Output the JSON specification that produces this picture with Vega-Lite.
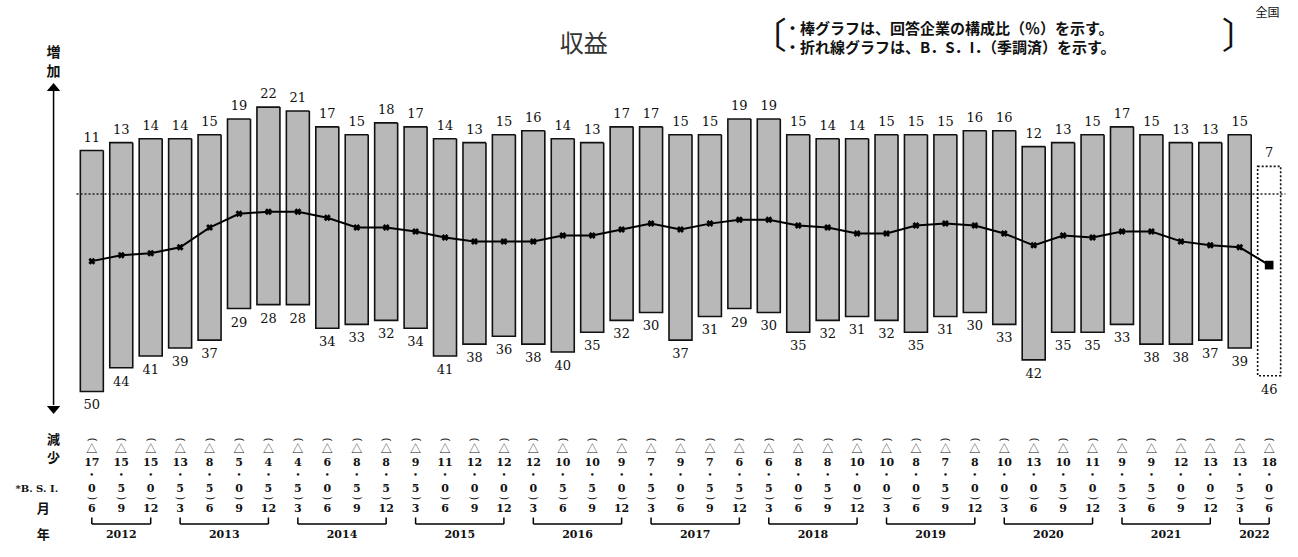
{
  "$schema": "https://vega.github.io/schema/vega-lite/v6.json",
  "width": 1298,
  "height": 557,
  "autosize": {"type": "fit", "contains": "padding"},
  "padding": 0,
  "background": "white",
  "config": {"view": {"stroke": null}, "text": {"font": "DejaVu Serif", "color": "#111"}},
  "data": {"values": [
    {"i": 0, "year": 2012, "month": 6, "inc": 11, "dec": -50, "bsi": -17.0, "kind": "実績"},
    {"i": 1, "year": 2012, "month": 9, "inc": 13, "dec": -44, "bsi": -15.5, "kind": "実績"},
    {"i": 2, "year": 2012, "month": 12, "inc": 14, "dec": -41, "bsi": -15.0, "kind": "実績"},
    {"i": 3, "year": 2013, "month": 3, "inc": 14, "dec": -39, "bsi": -13.5, "kind": "実績"},
    {"i": 4, "year": 2013, "month": 6, "inc": 15, "dec": -37, "bsi": -8.5, "kind": "実績"},
    {"i": 5, "year": 2013, "month": 9, "inc": 19, "dec": -29, "bsi": -5.0, "kind": "実績"},
    {"i": 6, "year": 2013, "month": 12, "inc": 22, "dec": -28, "bsi": -4.5, "kind": "実績"},
    {"i": 7, "year": 2014, "month": 3, "inc": 21, "dec": -28, "bsi": -4.5, "kind": "実績"},
    {"i": 8, "year": 2014, "month": 6, "inc": 17, "dec": -34, "bsi": -6.0, "kind": "実績"},
    {"i": 9, "year": 2014, "month": 9, "inc": 15, "dec": -33, "bsi": -8.5, "kind": "実績"},
    {"i": 10, "year": 2014, "month": 12, "inc": 18, "dec": -32, "bsi": -8.5, "kind": "実績"},
    {"i": 11, "year": 2015, "month": 3, "inc": 17, "dec": -34, "bsi": -9.5, "kind": "実績"},
    {"i": 12, "year": 2015, "month": 6, "inc": 14, "dec": -41, "bsi": -11.0, "kind": "実績"},
    {"i": 13, "year": 2015, "month": 9, "inc": 13, "dec": -38, "bsi": -12.0, "kind": "実績"},
    {"i": 14, "year": 2015, "month": 12, "inc": 15, "dec": -36, "bsi": -12.0, "kind": "実績"},
    {"i": 15, "year": 2016, "month": 3, "inc": 16, "dec": -38, "bsi": -12.0, "kind": "実績"},
    {"i": 16, "year": 2016, "month": 6, "inc": 14, "dec": -40, "bsi": -10.5, "kind": "実績"},
    {"i": 17, "year": 2016, "month": 9, "inc": 13, "dec": -35, "bsi": -10.5, "kind": "実績"},
    {"i": 18, "year": 2016, "month": 12, "inc": 17, "dec": -32, "bsi": -9.0, "kind": "実績"},
    {"i": 19, "year": 2017, "month": 3, "inc": 17, "dec": -30, "bsi": -7.5, "kind": "実績"},
    {"i": 20, "year": 2017, "month": 6, "inc": 15, "dec": -37, "bsi": -9.0, "kind": "実績"},
    {"i": 21, "year": 2017, "month": 9, "inc": 15, "dec": -31, "bsi": -7.5, "kind": "実績"},
    {"i": 22, "year": 2017, "month": 12, "inc": 19, "dec": -29, "bsi": -6.5, "kind": "実績"},
    {"i": 23, "year": 2018, "month": 3, "inc": 19, "dec": -30, "bsi": -6.5, "kind": "実績"},
    {"i": 24, "year": 2018, "month": 6, "inc": 15, "dec": -35, "bsi": -8.0, "kind": "実績"},
    {"i": 25, "year": 2018, "month": 9, "inc": 14, "dec": -32, "bsi": -8.5, "kind": "実績"},
    {"i": 26, "year": 2018, "month": 12, "inc": 14, "dec": -31, "bsi": -10.0, "kind": "実績"},
    {"i": 27, "year": 2019, "month": 3, "inc": 15, "dec": -32, "bsi": -10.0, "kind": "実績"},
    {"i": 28, "year": 2019, "month": 6, "inc": 15, "dec": -35, "bsi": -8.0, "kind": "実績"},
    {"i": 29, "year": 2019, "month": 9, "inc": 15, "dec": -31, "bsi": -7.5, "kind": "実績"},
    {"i": 30, "year": 2019, "month": 12, "inc": 16, "dec": -30, "bsi": -8.0, "kind": "実績"},
    {"i": 31, "year": 2020, "month": 3, "inc": 16, "dec": -33, "bsi": -10.0, "kind": "実績"},
    {"i": 32, "year": 2020, "month": 6, "inc": 12, "dec": -42, "bsi": -13.0, "kind": "実績"},
    {"i": 33, "year": 2020, "month": 9, "inc": 13, "dec": -35, "bsi": -10.5, "kind": "実績"},
    {"i": 34, "year": 2020, "month": 12, "inc": 15, "dec": -35, "bsi": -11.0, "kind": "実績"},
    {"i": 35, "year": 2021, "month": 3, "inc": 17, "dec": -33, "bsi": -9.5, "kind": "実績"},
    {"i": 36, "year": 2021, "month": 6, "inc": 15, "dec": -38, "bsi": -9.5, "kind": "実績"},
    {"i": 37, "year": 2021, "month": 9, "inc": 13, "dec": -38, "bsi": -12.0, "kind": "実績"},
    {"i": 38, "year": 2021, "month": 12, "inc": 13, "dec": -37, "bsi": -13.0, "kind": "実績"},
    {"i": 39, "year": 2022, "month": 3, "inc": 15, "dec": -39, "bsi": -13.5, "kind": "実績"},
    {"i": 40, "year": 2022, "month": 6, "inc": 7, "dec": -46, "bsi": -18.0, "kind": "見通し"}
  ]},
  "layer": [
    {
      "mark": {"type": "bar", "width": 23, "stroke": "#111", "strokeWidth": 1.6},
      "encoding": {
        "x": {"field": "i", "type": "quantitative", "axis": null, "scale": {"domain": [-2.95, 40.81], "nice": false, "zero": false}},
        "y": {"field": "inc", "type": "quantitative", "axis": null, "scale": {"domain": [-91.9, 49.11], "nice": false, "zero": false}},
        "y2": {"field": "dec"},
        "fill": {"field": "kind", "type": "nominal", "scale": {"domain": ["実績", "見通し"], "range": ["#b8b8b8", "#ffffff"]}, "legend": null},
        "strokeDash": {"field": "kind", "type": "nominal", "scale": {"domain": ["実績", "見通し"], "range": [[1, 0], [2, 2]]}, "legend": null}
      }
    },
    {
      "data": {"values": [{}]},
      "mark": {"type": "rule", "strokeDash": [2, 2], "color": "#222", "strokeWidth": 1.3},
      "encoding": {
        "x": {"datum": -0.52, "type": "quantitative", "axis": null, "scale": {"domain": [-2.95, 40.81], "nice": false, "zero": false}},
        "x2": {"datum": 40.55},
        "y": {"datum": 0, "type": "quantitative", "axis": null, "scale": {"domain": [-91.9, 49.11], "nice": false, "zero": false}}
      }
    },
    {
      "mark": {"type": "line", "color": "#000", "strokeWidth": 2},
      "encoding": {
        "x": {"field": "i", "type": "quantitative", "axis": null, "scale": {"domain": [-2.95, 40.81], "nice": false, "zero": false}},
        "y": {"field": "bsi", "type": "quantitative", "axis": null, "scale": {"domain": [-91.9, 49.11], "nice": false, "zero": false}}
      }
    },
    {
      "transform": [{"filter": "datum.kind == '実績'"}],
      "mark": {"type": "point", "shape": "cross", "angle": 45, "size": 50, "filled": true, "color": "#000", "opacity": 1},
      "encoding": {
        "x": {"field": "i", "type": "quantitative", "axis": null, "scale": {"domain": [-2.95, 40.81], "nice": false, "zero": false}},
        "y": {"field": "bsi", "type": "quantitative", "axis": null, "scale": {"domain": [-91.9, 49.11], "nice": false, "zero": false}}
      }
    },
    {
      "transform": [{"filter": "datum.kind == '見通し'"}],
      "mark": {"type": "point", "shape": "square", "size": 75, "filled": true, "color": "#000", "opacity": 1},
      "encoding": {
        "x": {"field": "i", "type": "quantitative", "axis": null, "scale": {"domain": [-2.95, 40.81], "nice": false, "zero": false}},
        "y": {"field": "bsi", "type": "quantitative", "axis": null, "scale": {"domain": [-91.9, 49.11], "nice": false, "zero": false}}
      }
    },
    {
      "mark": {"type": "text", "dy": -13, "baseline": "middle", "fontSize": 13},
      "encoding": {
        "x": {"field": "i", "type": "quantitative", "axis": null, "scale": {"domain": [-2.95, 40.81], "nice": false, "zero": false}},
        "y": {"field": "inc", "type": "quantitative", "axis": null, "scale": {"domain": [-91.9, 49.11], "nice": false, "zero": false}},
        "text": {"field": "inc", "type": "quantitative"}
      }
    },
    {
      "mark": {"type": "text", "dy": 14, "baseline": "middle", "fontSize": 13, "text": {"expr": "abs(datum.dec)"}},
      "encoding": {
        "x": {"field": "i", "type": "quantitative", "axis": null, "scale": {"domain": [-2.95, 40.81], "nice": false, "zero": false}},
        "y": {"field": "dec", "type": "quantitative", "axis": null, "scale": {"domain": [-91.9, 49.11], "nice": false, "zero": false}}
      }
    },
    {
      "mark": {"type": "text", "baseline": "middle", "align": "center", "angle": 90, "fontSize": 11, "font": "DejaVu Sans", "text": "("},
      "encoding": {
        "x": {"field": "i", "type": "quantitative", "axis": null},
        "y": {"datum": -62.2, "type": "quantitative", "axis": null}
      }
    },
    {
      "mark": {"type": "text", "baseline": "middle", "fontSize": 11, "font": "Noto Sans CJK JP", "text": {"expr": "datum.bsi < 0 ? '△' : ''"}},
      "encoding": {
        "x": {"field": "i", "type": "quantitative", "axis": null},
        "y": {"datum": -64.8, "type": "quantitative", "axis": null}
      }
    },
    {
      "mark": {"type": "text", "baseline": "middle", "fontSize": 11, "fontWeight": "bold", "text": {"expr": "floor(abs(datum.bsi))"}},
      "encoding": {
        "x": {"field": "i", "type": "quantitative", "axis": null},
        "y": {"datum": -68.1, "type": "quantitative", "axis": null}
      }
    },
    {
      "mark": {"type": "text", "baseline": "middle", "fontSize": 7, "fontWeight": "bold", "text": "•"},
      "encoding": {
        "x": {"field": "i", "type": "quantitative", "axis": null},
        "y": {"datum": -71.14, "type": "quantitative", "axis": null}
      }
    },
    {
      "mark": {"type": "text", "baseline": "middle", "fontSize": 11, "fontWeight": "bold", "text": {"expr": "round(abs(datum.bsi) * 10) % 10"}},
      "encoding": {
        "x": {"field": "i", "type": "quantitative", "axis": null},
        "y": {"datum": -74.7, "type": "quantitative", "axis": null}
      }
    },
    {
      "mark": {"type": "text", "baseline": "middle", "align": "center", "angle": 90, "fontSize": 11, "font": "DejaVu Sans", "text": ")"},
      "encoding": {
        "x": {"field": "i", "type": "quantitative", "axis": null},
        "y": {"datum": -77.0, "type": "quantitative", "axis": null}
      }
    },
    {
      "mark": {"type": "text", "baseline": "middle", "fontSize": 11, "fontWeight": "bold"},
      "encoding": {
        "x": {"field": "i", "type": "quantitative", "axis": null},
        "y": {"datum": -79.7, "type": "quantitative", "axis": null},
        "text": {"field": "month", "type": "nominal"}
      }
    },
    {
      "transform": [{"aggregate": [{"op": "min", "field": "i", "as": "i0"}, {"op": "max", "field": "i", "as": "i1"}, {"op": "mean", "field": "i", "as": "im"}], "groupby": ["year"]}],
      "layer": [
        {
          "mark": {"type": "rule", "color": "#000", "strokeWidth": 1.5},
          "encoding": {
            "x": {"field": "i0", "type": "quantitative", "axis": null},
            "x2": {"field": "i1"},
            "y": {"datum": -83.54, "type": "quantitative", "axis": null}
          }
        },
        {
          "mark": {"type": "rule", "color": "#000", "strokeWidth": 1.5},
          "encoding": {
            "x": {"field": "i0", "type": "quantitative", "axis": null},
            "y": {"datum": -81.9, "type": "quantitative", "axis": null},
            "y2": {"datum": -83.54}
          }
        },
        {
          "mark": {"type": "rule", "color": "#000", "strokeWidth": 1.5},
          "encoding": {
            "x": {"field": "i1", "type": "quantitative", "axis": null},
            "y": {"datum": -81.9, "type": "quantitative", "axis": null},
            "y2": {"datum": -83.54}
          }
        },
        {
          "mark": {"type": "text", "baseline": "middle", "fontSize": 11, "fontWeight": "bold"},
          "encoding": {
            "x": {"field": "im", "type": "quantitative", "axis": null},
            "y": {"datum": -86.33, "type": "quantitative", "axis": null},
            "text": {"field": "year", "type": "nominal"}
          }
        }
      ]
    },
    {
      "data": {"values": [{}]},
      "layer": [
        {
          "mark": {"type": "rule", "color": "#000", "strokeWidth": 1.5},
          "encoding": {
            "x": {"datum": -1.3, "type": "quantitative", "axis": null},
            "y": {"datum": 26.3, "type": "quantitative", "axis": null},
            "y2": {"datum": -53.4}
          }
        },
        {
          "mark": {"type": "point", "shape": "M-1,0.6L1,0.6L0,-0.6Z", "size": 180, "filled": true, "color": "#000", "opacity": 1},
          "encoding": {
            "x": {"datum": -1.3, "type": "quantitative", "axis": null},
            "y": {"datum": 27.1, "type": "quantitative", "axis": null}
          }
        },
        {
          "mark": {"type": "point", "shape": "M-1,-0.6L1,-0.6L0,0.6Z", "size": 180, "filled": true, "color": "#000", "opacity": 1},
          "encoding": {
            "x": {"datum": -1.3, "type": "quantitative", "axis": null},
            "y": {"datum": -54.7, "type": "quantitative", "axis": null}
          }
        },
        {
          "mark": {"type": "text", "baseline": "middle", "align": "center", "fontSize": 14, "font": "Noto Sans CJK JP", "fontWeight": "bold", "text": "増"},
          "encoding": {
            "x": {"datum": -1.3, "type": "quantitative", "axis": null},
            "y": {"datum": 35.6, "type": "quantitative", "axis": null}
          }
        },
        {
          "mark": {"type": "text", "baseline": "middle", "align": "center", "fontSize": 14, "font": "Noto Sans CJK JP", "fontWeight": "bold", "text": "加"},
          "encoding": {
            "x": {"datum": -1.3, "type": "quantitative", "axis": null},
            "y": {"datum": 31.0, "type": "quantitative", "axis": null}
          }
        },
        {
          "mark": {"type": "text", "baseline": "middle", "align": "center", "fontSize": 13, "font": "Noto Sans CJK JP", "fontWeight": "bold", "text": "減"},
          "encoding": {
            "x": {"datum": -1.3, "type": "quantitative", "axis": null},
            "y": {"datum": -62.2, "type": "quantitative", "axis": null}
          }
        },
        {
          "mark": {"type": "text", "baseline": "middle", "align": "center", "fontSize": 13, "font": "Noto Sans CJK JP", "fontWeight": "bold", "text": "少"},
          "encoding": {
            "x": {"datum": -1.3, "type": "quantitative", "axis": null},
            "y": {"datum": -66.8, "type": "quantitative", "axis": null}
          }
        },
        {
          "mark": {"type": "text", "baseline": "middle", "align": "center", "fontSize": 10, "fontWeight": "bold", "text": "*B. S. I."},
          "encoding": {
            "x": {"datum": -1.87, "type": "quantitative", "axis": null},
            "y": {"datum": -74.7, "type": "quantitative", "axis": null}
          }
        },
        {
          "mark": {"type": "text", "baseline": "middle", "align": "center", "fontSize": 13, "font": "Noto Sans CJK JP", "fontWeight": "bold", "text": "月"},
          "encoding": {
            "x": {"datum": -1.65, "type": "quantitative", "axis": null},
            "y": {"datum": -79.7, "type": "quantitative", "axis": null}
          }
        },
        {
          "mark": {"type": "text", "baseline": "middle", "align": "center", "fontSize": 13, "font": "Noto Sans CJK JP", "fontWeight": "bold", "text": "年"},
          "encoding": {
            "x": {"datum": -1.65, "type": "quantitative", "axis": null},
            "y": {"datum": -86.33, "type": "quantitative", "axis": null}
          }
        },
        {
          "mark": {"type": "text", "baseline": "middle", "align": "center", "fontSize": 24, "font": "Noto Sans CJK JP", "color": "#333", "text": "収益"},
          "encoding": {
            "x": {"datum": 16.71, "type": "quantitative", "axis": null},
            "y": {"datum": 37.72, "type": "quantitative", "axis": null}
          }
        },
        {
          "mark": {"type": "text", "baseline": "middle", "align": "center", "fontSize": 36, "font": "Noto Sans CJK JP", "fontWeight": "normal", "text": "〔"},
          "encoding": {
            "x": {"datum": 23.0, "type": "quantitative", "axis": null},
            "y": {"datum": 39.6, "type": "quantitative", "axis": null}
          }
        },
        {
          "mark": {"type": "text", "baseline": "middle", "align": "center", "fontSize": 36, "font": "Noto Sans CJK JP", "fontWeight": "normal", "text": "〕"},
          "encoding": {
            "x": {"datum": 39.0, "type": "quantitative", "axis": null},
            "y": {"datum": 39.5, "type": "quantitative", "axis": null}
          }
        },
        {
          "mark": {"type": "text", "baseline": "middle", "align": "left", "fontSize": 15, "font": "Noto Sans CJK JP", "fontWeight": "bold", "text": "・棒グラフは、回答企業の構成比（％）を示す。"},
          "encoding": {
            "x": {"datum": 23.55, "type": "quantitative", "axis": null},
            "y": {"datum": 41.7, "type": "quantitative", "axis": null}
          }
        },
        {
          "mark": {"type": "text", "baseline": "middle", "align": "left", "fontSize": 15, "font": "Noto Sans CJK JP", "fontWeight": "bold", "text": "・折れ線グラフは、B．S．I．（季調済）を示す。"},
          "encoding": {
            "x": {"datum": 23.55, "type": "quantitative", "axis": null},
            "y": {"datum": 37.0, "type": "quantitative", "axis": null}
          }
        },
        {
          "mark": {"type": "text", "baseline": "middle", "align": "center", "fontSize": 12, "font": "Noto Sans CJK JP", "text": "全国"},
          "encoding": {
            "x": {"datum": 39.94, "type": "quantitative", "axis": null},
            "y": {"datum": 45.82, "type": "quantitative", "axis": null}
          }
        }
      ]
    }
  ]
}
